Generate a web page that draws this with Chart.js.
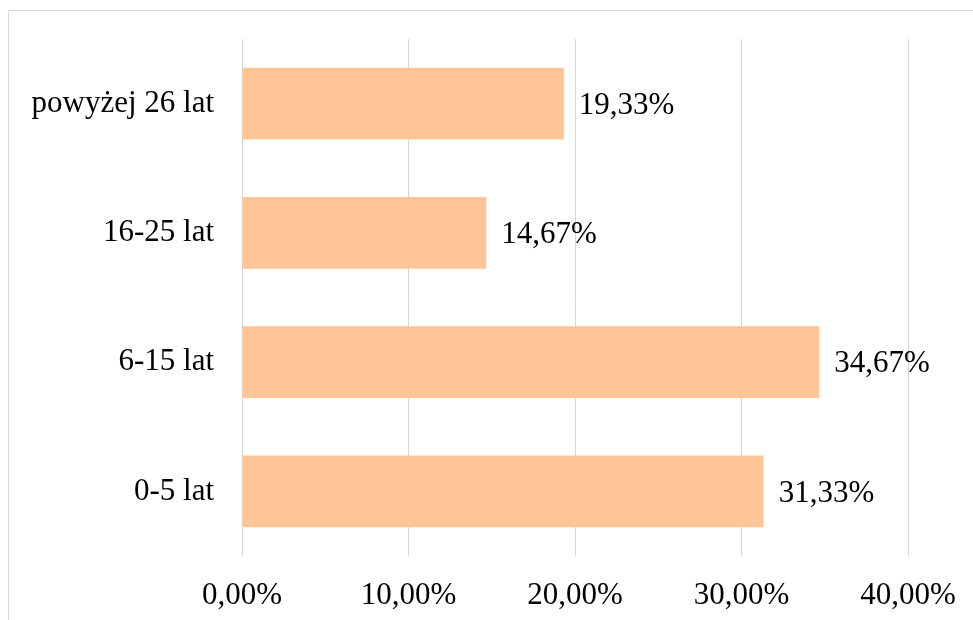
<!DOCTYPE html>
<html lang="pl">
<head>
<meta charset="utf-8">
<title>Wiek</title>
<script src="https://cdn.jsdelivr.net/npm/chart.js@4/dist/chart.umd.min.js"></script>
<style>
  html, body { margin: 0; padding: 0; background: #ffffff; }
  #wrap { position: relative; width: 973px; height: 620px; }
</style>
</head>
<body>
<div id="wrap"><canvas id="chart" width="973" height="620"></canvas></div>
<script>
// Age groups (top to bottom) and their shares in percent
const categories = ['powyżej 26 lat', '16-25 lat', '6-15 lat', '0-5 lat'];
const shares = [19.33, 14.67, 34.67, 31.33];
const tickValues = [0, 10, 20, 30, 40];

const FONT = '"Liberation Serif", "Times New Roman", serif';
const SIZE = 31;
const fmt = v => v.toFixed(2).replace('.', ',') + '%';

// Thin frame around the whole chart
const framePlugin = {
  id: 'frame',
  beforeDraw(chart) {
    const ctx = chart.ctx;
    ctx.save();
    ctx.fillStyle = '#ffffff';
    ctx.fillRect(0, 0, chart.width, chart.height);
    ctx.strokeStyle = '#d9d9d9';
    ctx.lineWidth = 1;
    ctx.strokeRect(8.5, 10.5, chart.width + 20, chart.height + 20);
    ctx.restore();
  }
};

// Value labels to the right of each bar
const valueLabels = {
  id: 'valueLabels',
  afterDatasetsDraw(chart) {
    const ctx = chart.ctx;
    const meta = chart.getDatasetMeta(0);
    ctx.save();
    ctx.font = SIZE + 'px ' + FONT;
    ctx.fillStyle = '#000000';
    ctx.textAlign = 'left';
    ctx.textBaseline = 'middle';
    meta.data.forEach((bar, i) => {
      const v = chart.data.datasets[0].data[i];
      ctx.fillText(fmt(v), bar.x + 15, bar.y + 2);
    });
    ctx.restore();
  }
};

// Keep tick-label overhang from pushing the plot area around
const noOverhang = scale => {
  scale.paddingTop = 0;
  scale.paddingBottom = 0;
  scale.paddingLeft = 0;
  scale.paddingRight = 0;
};

new Chart(document.getElementById('chart'), {
  type: 'bar',
  data: {
    labels: categories,
    datasets: [{
      data: shares,
      backgroundColor: '#ffc597',
      borderWidth: 0,
      barPercentage: 1,
      categoryPercentage: 0.556
    }]
  },
  options: {
    indexAxis: 'y',
    responsive: false,
    animation: false,
    layout: { padding: { left: 0, top: 39, right: 65, bottom: 0 } },
    plugins: {
      legend: { display: false },
      tooltip: { enabled: false }
    },
    scales: {
      x: {
        min: tickValues[0],
        max: tickValues[tickValues.length - 1],
        afterBuildTicks(scale) {
          scale.ticks = tickValues.map(v => ({ value: v }));
        },
        afterFit(scale) { scale.height = 64; noOverhang(scale); },
        grid: { color: '#d6d6d6', lineWidth: 1, drawTicks: false },
        border: { display: false },
        ticks: {
          padding: 21,
          color: '#000000',
          font: { family: FONT, size: SIZE },
          callback: v => fmt(v)
        }
      },
      y: {
        afterFit(scale) { scale.width = 242; noOverhang(scale); },
        grid: { display: false, drawTicks: false },
        border: { display: false },
        ticks: {
          padding: 28,
          color: '#000000',
          font: { family: FONT, size: SIZE }
        }
      }
    }
  },
  plugins: [framePlugin, valueLabels]
});
</script>
</body>
</html>
